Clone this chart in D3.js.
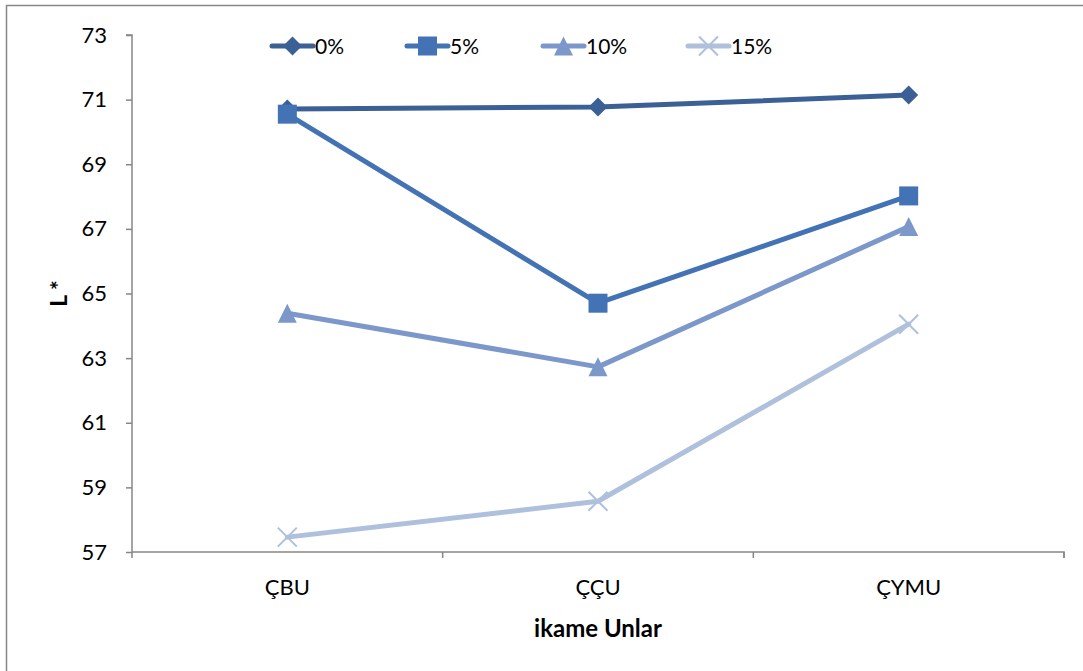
<!DOCTYPE html>
<html><head><meta charset="utf-8">
<script src="https://cdn.jsdelivr.net/npm/d3@7"></script>
<style>body{margin:0;background:#fff}svg{display:block}text{font-family:Lato,"Open Sans",sans-serif}</style>
</head><body><svg id="c" width="1083" height="671"></svg>
<script>
const categories = ["ÇBU", "ÇÇU", "ÇYMU"];
const seriesNames = ["0%", "5%", "10%", "15%"];
const s0 = [70.71, 70.77, 71.14];
const s5 = [70.55, 64.70, 68.02];
const s10 = [64.39, 62.73, 67.07];
const s15 = [57.46, 58.57, 64.05];
const yTicks = [57, 59, 61, 63, 65, 67, 69, 71, 73];
const yTitle = "L *";
const xTitle = "ikame Unlar";

const colors = ["#3B6096", "#4473B5", "#7C97CA", "#AFC0DD"];
const markers = ["diamond", "square", "triangle", "x"];
const series = [s0, s5, s10, s15].map((v, i) => ({name: seriesNames[i], values: v, color: colors[i], marker: markers[i]}));

const svg = d3.select("#c");
svg.append("rect").attr("x", 6.5).attr("y", 5.5).attr("width", 1100).attr("height", 700)
  .attr("fill", "none").attr("stroke", "#888").attr("stroke-width", 1.5);

const L = 132, R = 1064, T = 35, B = 552;
const x = d3.scaleBand().domain(categories).range([L, R]);
const y = d3.scaleLinear().domain([57, 73]).range([B, T]);

const axisColor = "#868686";
// y axis
const ya = svg.append("g").attr("transform", `translate(${L},0)`)
  .call(d3.axisLeft(y).tickValues(yTicks).tickSize(6).tickPadding(19).tickFormat(d3.format("d")));
ya.selectAll("path,line").attr("stroke", axisColor).attr("stroke-width", 1.5);
ya.select(".domain").attr("d", `M-6,${T}H0V${B}`);
ya.selectAll("text").attr("font-size", 22).attr("fill", "#000").attr("font-family", "Lato,'Open Sans',sans-serif");

// x axis
const xa = svg.append("g").attr("transform", `translate(0,${B})`)
  .call(d3.axisBottom(x).tickSize(0).tickPadding(27));
xa.select(".domain").attr("stroke", axisColor).attr("stroke-width", 1.5).attr("d", `M${L},0H${R}V6`);
xa.selectAll("text").attr("font-size", 22).attr("fill", "#000").attr("font-family", "Lato,'Open Sans',sans-serif");
const bounds = categories.map(c => x(c)).concat([R]);
xa.selectAll(".btick").data(bounds).join("line").attr("class", "btick")
  .attr("x1", d => d).attr("x2", d => d).attr("y1", 0).attr("y2", 6)
  .attr("stroke", axisColor).attr("stroke-width", 1.5);

const cx = c => x(c) + x.bandwidth() / 2;
const line = d3.line().x((d, i) => cx(categories[i])).y(d => y(d));

function drawMarker(g, type, px, py, color) {
  const s = 9.5;
  if (type === "diamond") {
    g.append("path").attr("d", `M${px},${py - s}L${px + s},${py}L${px},${py + s}L${px - s},${py}Z`).attr("fill", color);
  } else if (type === "square") {
    g.append("rect").attr("x", px - s).attr("y", py - s).attr("width", 2 * s).attr("height", 2 * s).attr("fill", color);
  } else if (type === "triangle") {
    g.append("path").attr("d", `M${px},${py - s}L${px + s},${py + s}L${px - s},${py + s}Z`).attr("fill", color);
  } else {
    g.append("path").attr("d", `M${px - s},${py - s}L${px + s},${py + s}M${px - s},${py + s}L${px + s},${py - s}`)
      .attr("stroke", color).attr("stroke-width", 2).attr("fill", "none");
  }
}

series.forEach(s => {
  const g = svg.append("g");
  g.append("path").attr("d", line(s.values)).attr("fill", "none").attr("stroke", s.color)
    .attr("stroke-width", 5).attr("stroke-linejoin", "round").attr("stroke-linecap", "round");
  s.values.forEach((v, i) => drawMarker(g, s.marker, cx(categories[i]), y(v), s.color));
});

// legend
const legX = [272, 407, 543, 688];
const legY = 46;
series.forEach((s, i) => {
  const g = svg.append("g");
  g.append("line").attr("x1", legX[i]).attr("x2", legX[i] + 41).attr("y1", legY).attr("y2", legY)
    .attr("stroke", s.color).attr("stroke-width", 5).attr("stroke-linecap", "round");
  drawMarker(g, s.marker, legX[i] + 20.5, legY, s.color);
  g.append("text").attr("x", legX[i] + 43).attr("y", legY).attr("dy", "0.36em")
    .attr("font-size", 21).attr("fill", "#000").text(s.name);
});

// titles
svg.append("text").attr("transform", `translate(67,${(T + B) / 2}) rotate(-90)`)
  .attr("text-anchor", "middle").attr("font-size", 23).attr("font-weight", "bold").text(yTitle);
svg.append("text").attr("x", (L + R) / 2).attr("y", 637).attr("text-anchor", "middle")
  .attr("font-size", 24).attr("font-weight", "bold").text(xTitle);
</script></body></html>
